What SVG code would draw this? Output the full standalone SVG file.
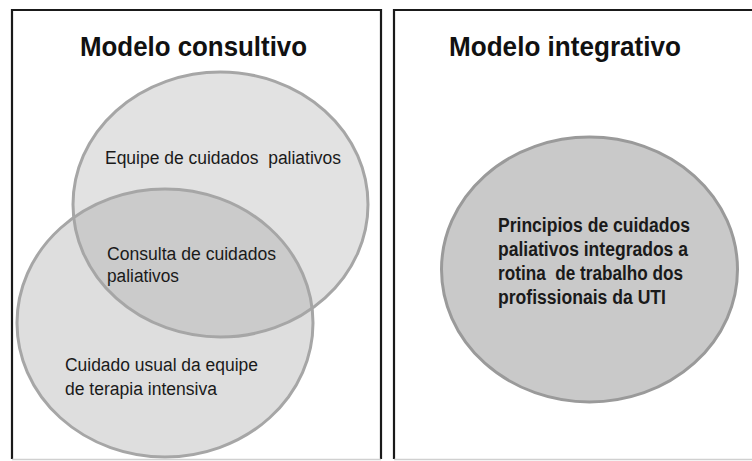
<svg xmlns="http://www.w3.org/2000/svg" width="752" height="461" viewBox="0 0 752 461">
<style>
.panel{fill:#ffffff;stroke:#1a1a1a;stroke-width:2.2}
.base{stroke:#d0d0d0;stroke-width:1.5}
.ring{fill:none;stroke:#a6a6a6;stroke-width:3}
text{white-space:pre}
.title{font-family:"Liberation Sans",Arial,sans-serif;font-weight:bold;font-size:28px;fill:#111}
.lbl{font-family:"Liberation Sans",Arial,sans-serif;font-size:18px;fill:#1a1a1a}
.blbl{font-family:"Liberation Sans",Arial,sans-serif;font-weight:bold;font-size:20px;fill:#1a1a1a}
</style>
<defs>
<clipPath id="clipE1"><ellipse cx="220.5" cy="204.5" rx="147.5" ry="132.5"/></clipPath>
</defs>
<rect width="752" height="461" fill="#ffffff"/>
<g id="panel-consultivo">
<path class="panel" d="M12,459 V10 H381 V459"/>
<line class="base" x1="12" y1="459.5" x2="381" y2="459.5"/>
<text class="title" x="80" y="56" textLength="227" lengthAdjust="spacingAndGlyphs">Modelo consultivo</text>
</g>
<g id="panel-integrativo">
<path class="panel" d="M394,459 V10 H753"/>
<line class="base" x1="394" y1="459.5" x2="752" y2="459.5"/>
<text class="title" x="449" y="56" textLength="232" lengthAdjust="spacingAndGlyphs">Modelo integrativo</text>
</g>
<g id="equipe-cuidados-paliativos">
<ellipse cx="220.5" cy="204.5" rx="147.5" ry="132.5" fill="#e2e2e2"/>
</g>
<g id="cuidado-usual">
<ellipse cx="165" cy="323" rx="148" ry="134" fill="#dedede"/>
</g>
<g id="consulta-overlap">
<ellipse cx="165" cy="323" rx="148" ry="134" fill="#cbcbcb" clip-path="url(#clipE1)"/>
</g>
<g id="outlines">
<ellipse class="ring" cx="220.5" cy="204.5" rx="147.5" ry="132.5"/>
<ellipse class="ring" cx="165" cy="323" rx="148" ry="134"/>
</g>
<g id="labels-consultivo">
<text class="lbl" x="105" y="164" textLength="236" lengthAdjust="spacingAndGlyphs">Equipe de cuidados  paliativos</text>
<text class="lbl" x="107" y="260" textLength="169" lengthAdjust="spacingAndGlyphs">Consulta de cuidados</text>
<text class="lbl" x="107" y="282" textLength="72" lengthAdjust="spacingAndGlyphs">paliativos</text>
<text class="lbl" x="65" y="371" textLength="193" lengthAdjust="spacingAndGlyphs">Cuidado usual da equipe</text>
<text class="lbl" x="65" y="395" textLength="152" lengthAdjust="spacingAndGlyphs">de terapia intensiva</text>
</g>
<g id="principios-integrados">
<ellipse cx="589.5" cy="269.5" rx="148" ry="132.5" fill="#c9c9c9" stroke="#9a9a9a" stroke-width="3"/>
<text class="blbl" x="498" y="232" textLength="192" lengthAdjust="spacingAndGlyphs">Principios de cuidados</text>
<text class="blbl" x="498" y="256" textLength="190" lengthAdjust="spacingAndGlyphs">paliativos integrados a</text>
<text class="blbl" x="498" y="280" textLength="185" lengthAdjust="spacingAndGlyphs">rotina  de trabalho dos</text>
<text class="blbl" x="498" y="304" textLength="168" lengthAdjust="spacingAndGlyphs">profissionais da UTI</text>
</g>
</svg>
